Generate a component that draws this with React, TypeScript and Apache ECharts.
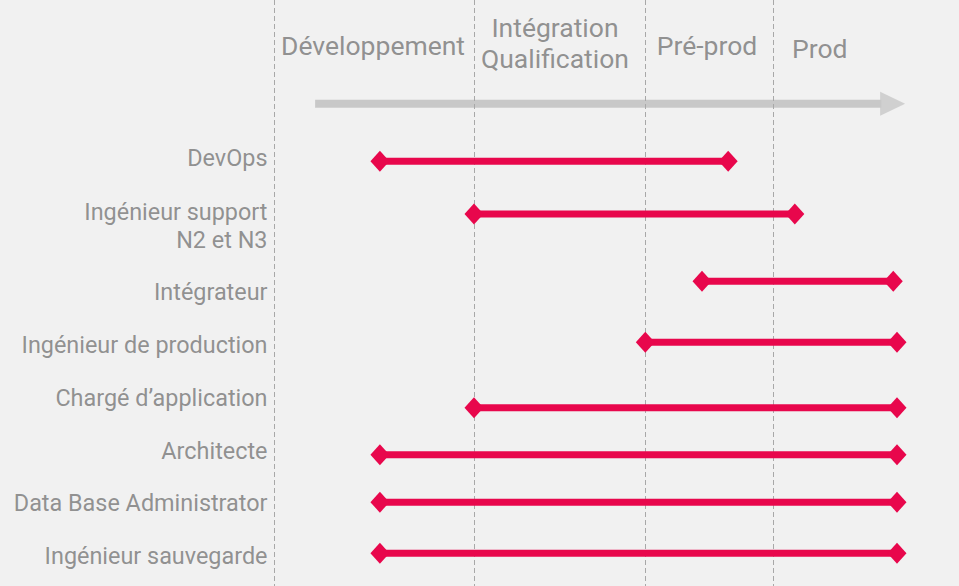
import React, { useEffect, useRef } from "react";
import * as echarts from "echarts";

// Timeline position (0–100) of each phase boundary
const phaseBounds = [0, 32.1, 59.6, 80.1];
const phaseNames = ["Développement", "Intégration\nQualification", "Pré-prod", "Prod"];
const phaseLabelX = [15.9, 45.1, 69.5, 87.6];
const phaseLabelY = [0.77, 0.74, 0.77, 0.82];

const roles = [
  "DevOps",
  "Ingénieur support\nN2 et N3",
  "Intégrateur",
  "Ingénieur de production",
  "Chargé d’application",
  "Architecte",
  "Data Base Administrator",
  "Ingénieur sauvegarde",
];
const roleStart = [17.0, 32.1, 68.7, 59.6, 32.1, 17.0, 17.0, 17.0];
const roleEnd = [72.9, 83.6, 99.4, 100, 100, 100, 100, 100];
const roleRowY = [2.75, 3.65, 4.8, 5.84, 6.96, 7.76, 8.57, 9.44];
const roleLabelY = [2.7, 3.86, 4.98, 5.89, 6.79, 7.7, 8.58, 9.49];

const arrowStart = 6.6;
const arrowShaftEnd = 97.5;
const arrowHeadX = 99.3;
const arrowY = 1.77;

const RED = "#e8074c";
const GRAY_TEXT = "#777777";
const FONT = "Roboto";

export default function App() {
  const ref = useRef<HTMLDivElement>(null);
  useEffect(() => {
    if (!ref.current) return;
    const chart = echarts.init(ref.current, undefined, { renderer: "svg" });
    const roleSeries = roles.map((r, i) => ({
      type: "line",
      name: r,
      clip: false,
      data: [
        [roleStart[i], roleRowY[i]],
        [roleEnd[i], roleRowY[i]],
      ],
      symbol: "diamond",
      symbolSize: [19, 21],
      showSymbol: true,
      lineStyle: { color: RED, width: 7 },
      itemStyle: { color: RED },
      z: 5,
    }));
    chart.setOption({
      animation: false,
      backgroundColor: "#f1f1f1",
      grid: { left: 274, right: 62, top: 0, bottom: 0 },
      xAxis: { type: "value", min: 0, max: 100, show: false },
      yAxis: { type: "value", min: 0, max: 10, inverse: true, show: false },
      series: [
        {
          type: "line",
          name: "arrow",
          clip: false,
          data: [
            [arrowStart, arrowY],
            [arrowShaftEnd, arrowY],
          ],
          symbol: "none",
          lineStyle: { color: "#c8c8c8", width: 8 },
          markLine: {
            silent: true,
            symbol: ["none", "none"],
            label: { show: false },
            lineStyle: { color: "#a8a8a8", width: 1, type: [5, 3] },
            data: phaseBounds.map((x) => ({ xAxis: x })),
          },
          z: 2,
        },
        {
          type: "scatter",
          name: "arrowHead",
          clip: false,
          data: [[arrowHeadX, arrowY]],
          symbol: "triangle",
          symbolSize: [24, 25],
          symbolRotate: -90,
          itemStyle: { color: "#c8c8c8" },
          z: 2,
        },
        {
          type: "scatter",
          name: "phases",
          clip: false,
          symbolSize: 1,
          itemStyle: { color: "rgba(0,0,0,0)" },
          data: phaseNames.map((n, i) => ({ value: [phaseLabelX[i], phaseLabelY[i]], name: n })),
          label: {
            show: true,
            position: "inside",
            formatter: (p: any) => p.name,
            color: GRAY_TEXT,
            fontFamily: FONT,
            fontSize: 26.5,
            lineHeight: 31,
            align: "center",
            verticalAlign: "middle",
          },
        },
        {
          type: "scatter",
          name: "roles",
          clip: false,
          symbolSize: 1,
          itemStyle: { color: "rgba(0,0,0,0)" },
          data: roles.map((n, i) => ({ value: [0, roleLabelY[i]], name: n })),
          label: {
            show: true,
            position: "left",
            distance: 6,
            formatter: (p: any) => p.name,
            color: GRAY_TEXT,
            fontFamily: FONT,
            fontSize: 23.4,
            lineHeight: 28,
            align: "right",
            verticalAlign: "middle",
          },
        },
        ...roleSeries,
      ],
    });
    return () => chart.dispose();
  }, []);
  return (
    <div
      ref={ref}
      style={{ position: "absolute", left: 0, top: 0, width: 959, height: 586 }}
    />
  );
}
